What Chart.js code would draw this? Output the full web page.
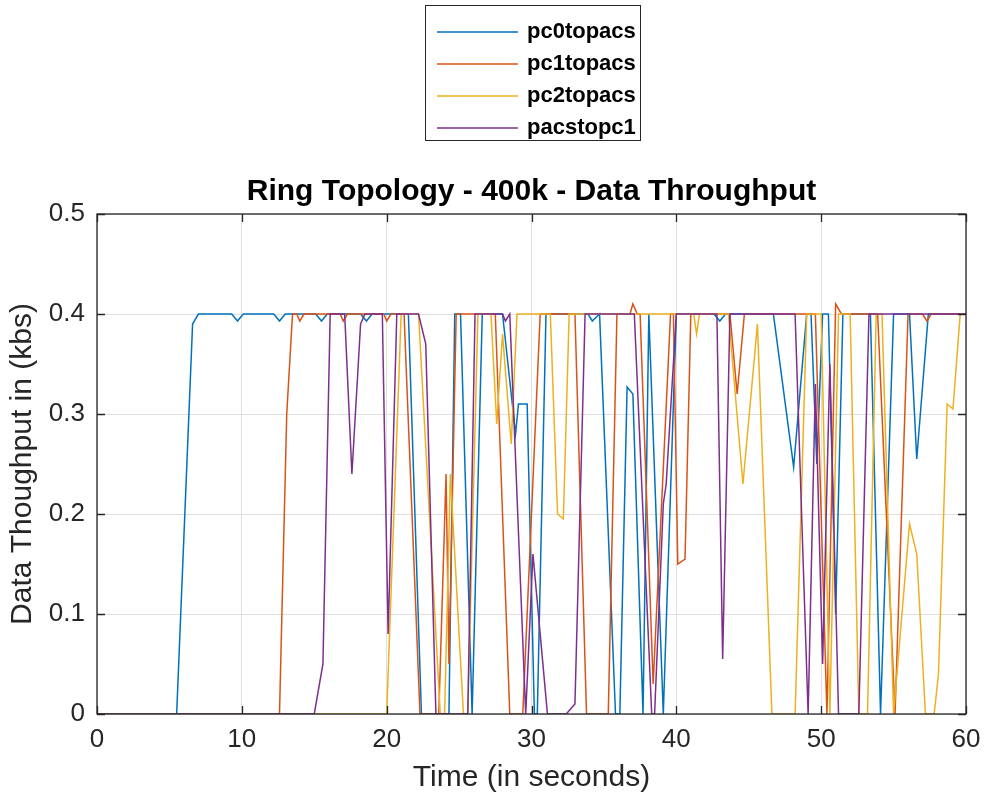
<!DOCTYPE html>
<html lang="en">
<head>
<meta charset="UTF-8">
<title>Ring Topology - 400k - Data Throughput</title>
<style>
  body { margin: 0; background: #fff; }
  #chart { display: block; }
</style>
</head>
<body>
<canvas id="chart" width="987" height="800"></canvas>
<script src="https://cdn.jsdelivr.net/npm/chart.js@4.4.1/dist/chart.umd.min.js"></script>
<script>
// [time (s), throughput (kbs)]
var pc0topacs = [[0,0],[5.5,0],[6.6,0.39],[7.0,0.4],[9.3,0.4],[9.7,0.393],[10.1,0.4],[12.2,0.4],[12.6,0.393],[13.0,0.4],
  [15.1,0.4],[15.5,0.393],[15.9,0.4],[18.2,0.4],[18.6,0.393],[19.0,0.4],[21.5,0.4],[22.4,0],[24.3,0],[24.7,0.4],
  [25.1,0.4],[25.9,0],[26.6,0.4],[28.0,0.4],[28.9,0.28],[29.1,0.31],[29.7,0.31],[30.2,0],[30.4,0],[31.0,0.4],
  [33.9,0.4],[34.2,0.393],[34.7,0.4],[35.8,0],[36.1,0],[36.6,0.327],[37.0,0.32],[37.7,0],[38.1,0.4],[39.1,0],
  [40.0,0.4],[42.6,0.4],[43.0,0.393],[43.4,0.4],[46.7,0.4],[48.1,0.247],[49.0,0.4],[49.3,0.4],[49.7,0.25],[50.1,0.4],
  [50.5,0.4],[51.0,0.1],[51.5,0.4],[53.4,0.4],[54.1,0],[55.0,0.4],[56.1,0.4],[56.6,0.255],[57.4,0.4],[60,0.4]];

var pc1topacs = [[0,0],[12.6,0],[13.1,0.3],[13.5,0.4],[13.8,0.4],[14.0,0.393],[14.3,0.4],[16.8,0.4],[17.0,0.393],[17.3,0.4],
  [19.8,0.4],[20.0,0.393],[20.3,0.4],[21.2,0.4],[22.3,0],[23.6,0],[24.1,0.24],[24.3,0.05],[24.8,0.4],[27.5,0.4],
  [28.5,0],[29.4,0],[30.6,0.4],[33.0,0.4],[33.8,0],[35.3,0],[35.9,0.4],[36.8,0.4],[37.0,0.41],[37.3,0.4],
  [37.5,0.4],[38.4,0.03],[39.6,0.4],[39.8,0.4],[40.1,0.15],[40.6,0.155],[41.0,0.4],[43.7,0.4],[44.2,0.32],[44.7,0.4],
  [49.6,0.4],[50.4,0],[51.0,0.41],[51.4,0.4],[53.9,0.4],[55.1,0],[56.0,0.4],[57.0,0.4],[57.3,0.393],[57.6,0.4],[60,0.4]];

var pc2topacs = [[0,0],[20.0,0],[21.0,0.4],[22.2,0.4],[23.7,0],[24.0,0],[24.4,0.24],[25.3,0],[25.6,0],[26.3,0.4],
  [27.2,0.4],[27.6,0.29],[28.0,0.38],[28.6,0.27],[29.0,0.4],[31.3,0.4],[31.8,0.2],[32.2,0.195],[32.6,0.4],[41.2,0.4],
  [41.4,0.38],[41.6,0.4],[43.6,0.4],[44.6,0.23],[45.6,0.39],[46.6,0],[48.2,0],[49.0,0.4],[50.0,0.4],[50.6,0],
  [51.2,0.4],[52.0,0.4],[52.6,0],[53.2,0],[53.8,0.4],[54.2,0.4],[55.0,0],[56.1,0.19],[56.6,0.16],[57.2,0],
  [57.8,0],[58.1,0.04],[58.7,0.31],[59.1,0.305],[59.6,0.4],[60,0.4]];

var pacstopc1 = [[0,0],[15.0,0],[15.6,0.05],[16.1,0.4],[17.1,0.4],[17.6,0.24],[18.2,0.39],[18.5,0.4],[19.7,0.4],[20.1,0.08],
  [20.7,0.4],[22.2,0.4],[22.7,0.37],[23.4,0],[25.6,0],[26.1,0.4],[28.0,0.4],[28.2,0.393],[28.5,0.4],[29.6,0],
  [30.1,0.16],[31.1,0],[32.4,0],[33.0,0.01],[33.7,0.4],[37.1,0.4],[38.3,0],[38.5,0],[39.1,0.21],[39.3,0.23],
  [40.0,0.4],[42.8,0.4],[43.2,0.055],[43.7,0.4],[48.2,0.4],[49.1,0],[49.6,0.33],[50.1,0.05],[50.6,0.35],[51.2,0],
  [52.6,0],[53.3,0.4],[60,0.4]];

var seriesNames = ['pc0topacs', 'pc1topacs', 'pc2topacs', 'pacstopc1'];
var seriesData = [pc0topacs, pc1topacs, pc2topacs, pacstopc1];
var seriesColors = ['#0072BD', '#D95319', '#EDB120', '#7E2F8E'];
var xTicks = [0, 10, 20, 30, 40, 50, 60];
var yTicks = [0, 0.1, 0.2, 0.3, 0.4, 0.5];

var FONT = "'Liberation Sans', Arial, sans-serif";
var AXIS = '#262626';

var datasets = seriesData.map(function(s, i) {
  return {
    label: seriesNames[i],
    data: s.map(function(p) { return { x: p[0], y: p[1] }; }),
    borderColor: seriesColors[i],
    borderWidth: 1.5,
    pointRadius: 0,
    tension: 0,
    fill: false,
    order: seriesData.length - i
  };
});

// box, inward ticks and the boxed legend like a matlab figure
var matlabFrame = {
  id: 'matlabFrame',
  afterDatasetsDraw: function(chart) {
    var ctx = chart.ctx, a = chart.chartArea;
    var xs = chart.scales.x, ys = chart.scales.y;
    ctx.save();
    ctx.strokeStyle = AXIS;
    ctx.lineWidth = 1.3;
    ctx.strokeRect(a.left, a.top, a.right - a.left, a.bottom - a.top);
    ctx.beginPath();
    xTicks.forEach(function(v) {
      var px = Math.round(xs.getPixelForValue(v)) + 0.5;
      ctx.moveTo(px, a.bottom); ctx.lineTo(px, a.bottom - 8);
      ctx.moveTo(px, a.top); ctx.lineTo(px, a.top + 8);
    });
    yTicks.forEach(function(v) {
      var py = Math.round(ys.getPixelForValue(v)) + 0.5;
      ctx.moveTo(a.left, py); ctx.lineTo(a.left + 8, py);
      ctx.moveTo(a.right, py); ctx.lineTo(a.right - 8, py);
    });
    ctx.stroke();
    ctx.restore();
  },
  afterDraw: function(chart) {
    var ctx = chart.ctx;
    var bx = 425.5, by = 5.5, bw = 215, bh = 135;
    ctx.save();
    ctx.fillStyle = '#fff';
    ctx.fillRect(bx, by, bw, bh);
    ctx.strokeStyle = AXIS;
    ctx.lineWidth = 1;
    ctx.strokeRect(bx, by, bw, bh);
    ctx.font = 'bold 22px ' + FONT;
    ctx.textBaseline = 'middle';
    ctx.textAlign = 'left';
    chart.data.datasets.forEach(function(ds, i) {
      var y = 32 + i * 32;
      ctx.strokeStyle = ds.borderColor;
      ctx.lineWidth = 1.5;
      ctx.beginPath();
      ctx.moveTo(437, y); ctx.lineTo(518, y);
      ctx.stroke();
      ctx.fillStyle = '#000';
      ctx.fillText(ds.label, 527, y);
    });
    ctx.restore();
  }
};

var chart = new Chart(document.getElementById('chart'), {
  type: 'line',
  data: { datasets: datasets },
  options: {
    responsive: false,
    animation: false,
    events: [],
    layout: { padding: { top: 170, right: 21, left: 0, bottom: 0 } },
    scales: {
      x: {
        type: 'linear', min: 0, max: 60,
        afterBuildTicks: function(s) { s.ticks = xTicks.map(function(v) { return { value: v }; }); },
        afterFit: function(s) { s.height = 86; s.paddingLeft = 0; s.paddingRight = 0; },
        grid: { color: '#dfdfdf', drawTicks: false },
        border: { display: false },
        ticks: { padding: 10, color: AXIS, font: { family: FONT, size: 26 }, maxRotation: 0 },
        title: { display: true, text: 'Time (in seconds)', color: AXIS, font: { family: FONT, size: 30 }, padding: { bottom: 4, top: 0 } }
      },
      y: {
        type: 'linear', min: 0, max: 0.5,
        afterBuildTicks: function(s) { s.ticks = yTicks.map(function(v) { return { value: v }; }); },
        afterFit: function(s) { s.width = 97; s.paddingTop = 0; s.paddingBottom = 0; },
        grid: { color: '#dfdfdf', drawTicks: false },
        border: { display: false },
        ticks: {
          padding: 12, color: AXIS, font: { family: FONT, size: 26 },
          callback: function(v) { return v === 0 ? '0' : v.toFixed(1); }
        },
        title: { display: true, text: 'Data Thoughput in (kbs)', color: AXIS, font: { family: FONT, size: 30 }, padding: { top: 5, bottom: 0 } }
      }
    },
    plugins: {
      legend: { display: false },
      tooltip: { enabled: false },
      title: {
        display: true,
        fullSize: false,
        text: 'Ring Topology - 400k - Data Throughput',
        color: '#000',
        font: { family: FONT, size: 30, weight: 'bold' },
        padding: { top: 4, bottom: 4 }
      }
    }
  },
  plugins: [matlabFrame]
});
</script>
</body>
</html>
